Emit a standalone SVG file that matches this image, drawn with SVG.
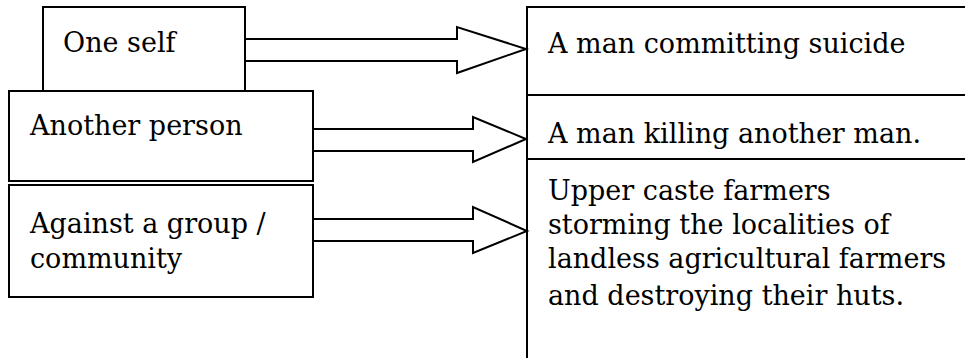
<svg xmlns="http://www.w3.org/2000/svg" width="965" height="358" viewBox="0 0 965 358">
<style>
.b{fill:#fff;stroke:#000;stroke-width:2}
.l{fill:none;stroke:#000;stroke-width:2}
.t{font-family:'DejaVu Serif','Liberation Serif',serif;font-size:27px;fill:#000}
</style>
<rect width="965" height="358" fill="#fff"/>
<g id="connectors">
<path class="l" d="M245 39H457V27L526 49L457 73V61H245"/>
<path class="l" d="M313 129H473V117L526 139L473 162V151H313"/>
<path class="l" d="M313 219H473V207L527 231L473 253V241H313"/>
</g>
<g id="node-oneself">
<rect class="b" x="43" y="7" width="202" height="84"/>
<text class="t" x="63" y="52">One self</text>
</g>
<g id="node-another">
<rect class="b" x="9" y="91" width="304" height="90"/>
<text class="t" x="30" y="135">Another person</text>
</g>
<g id="node-group">
<rect class="b" x="9" y="185" width="304" height="112"/>
<text class="t" x="30" y="233">Against a group /</text>
<text class="t" x="30" y="268">community</text>
</g>
<g id="node-table">
<path class="l" d="M527 358V7H966M527 95H966M527 159H966"/>
</g>
<g id="node-suicide">
<text class="t" x="548" y="53">A man committing suicide</text>
</g>
<g id="node-killing">
<text class="t" x="548" y="143">A man killing another man.</text>
</g>
<g id="node-storming">
<text class="t" x="548" y="200">Upper caste farmers</text>
<text class="t" x="548" y="234">storming the localities of</text>
<text class="t" x="548" y="268">landless agricultural farmers</text>
<text class="t" x="548" y="305">and destroying their huts.</text>
</g>
</svg>
